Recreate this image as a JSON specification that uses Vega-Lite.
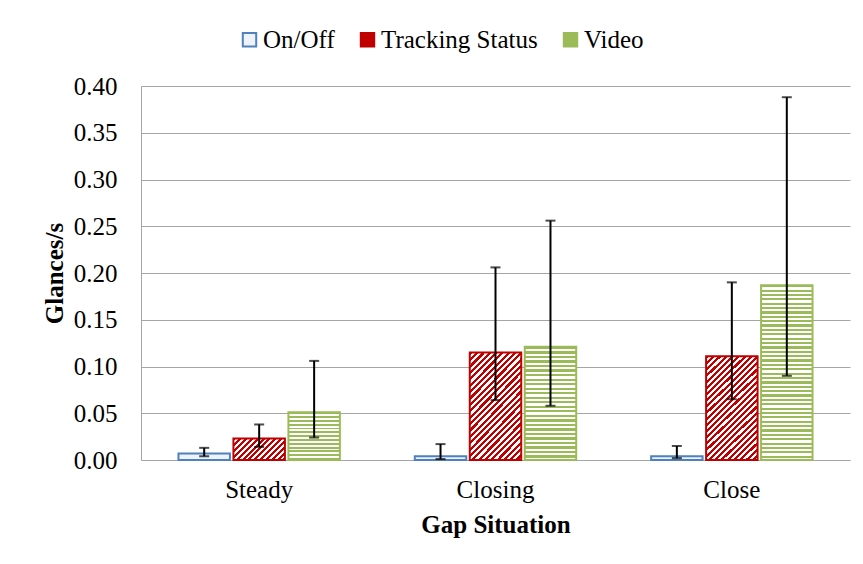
{
"$schema":"https://vega.github.io/schema/vega-lite/v6.json",
"width":709,"height":374,
"autosize":{"type":"none"},
"padding":{"left":141,"top":86,"right":13,"bottom":104},
"background":"#ffffff",
"data":{"values":[
{"situation":"Steady","series":"On/Off","value":0.007,"lo":0.004,"hi":0.013},
{"situation":"Steady","series":"Tracking Status","value":0.023,"lo":0.014,"hi":0.038},
{"situation":"Steady","series":"Video","value":0.051,"lo":0.024,"hi":0.106},
{"situation":"Closing","series":"On/Off","value":0.004,"lo":0.001,"hi":0.017},
{"situation":"Closing","series":"Tracking Status","value":0.115,"lo":0.064,"hi":0.206},
{"situation":"Closing","series":"Video","value":0.121,"lo":0.058,"hi":0.256},
{"situation":"Close","series":"On/Off","value":0.004,"lo":0.002,"hi":0.015},
{"situation":"Close","series":"Tracking Status","value":0.111,"lo":0.065,"hi":0.19},
{"situation":"Close","series":"Video","value":0.187,"lo":0.09,"hi":0.388}
]},
"encoding":{
"x":{"field":"situation","type":"nominal","sort":["Steady","Closing","Close"],"scale":{"paddingInner":0.317,"paddingOuter":0.1585},"axis":{"title":"Gap Situation","labelAngle":0,"labelPadding":17,"titlePadding":10,"grid":false}},
"xOffset":{"field":"series","type":"nominal","sort":["On/Off","Tracking Status","Video"],"scale":{"paddingInner":0.064,"paddingOuter":0}}
},
"layer":[
{"transform":[{"filter":"false"}],
"mark":{"type":"bar","strokeWidth":2},
"encoding":{
"y":{"field":"value","type":"quantitative","title":"Glances/s","scale":{"domain":[0,0.4],"nice":false},"axis":{"values":[0,0.05,0.1,0.15,0.2,0.25,0.3,0.35,0.4],"format":".2f","labelPadding":24,"titlePadding":6,"grid":true}},
"stroke":{"field":"series","type":"nominal","scale":{"domain":["On/Off","Tracking Status","Video"],"range":["#4F81BD","#C00000","#9BBB59"]},
"legend":{"orient":"none","legendX":96,"legendY":-59,"direction":"horizontal","title":null,"symbolType":"square","symbolSize":180,"symbolStrokeWidth":2,"labelFont":"Liberation Serif","labelFontSize":25,"labelColor":"#000000","labelOffset":1,"columnPadding":20}},
"fill":{"field":"series","type":"nominal","scale":{"domain":["On/Off","Tracking Status","Video"],"range":["#eef3f9","#C00000","#9BBB59"]},
"legend":{"orient":"none","legendX":96,"legendY":-59,"direction":"horizontal","title":null,"symbolType":"square","symbolSize":180,"symbolStrokeWidth":2,"labelFont":"Liberation Serif","labelFontSize":25,"labelColor":"#000000","labelOffset":1,"columnPadding":20}}
}},
{"mark":{"type":"bar","strokeWidth":2},
"encoding":{
"y":{"field":"value","type":"quantitative","title":"Glances/s"},
"stroke":{"field":"series","type":"nominal","legend":null},
"fill":{"condition":[
{"test":"datum.series === 'Video' && datum.situation === 'Steady'","value":{"gradient":"linear","x1":0,"y1":0,"x2":0,"y2":1,"stops":[{"offset":0,"color":"#9BBB59"},{"offset":0.04,"color":"#9BBB59"},{"offset":0.04,"color":"#ffffff"},{"offset":0.08,"color":"#ffffff"},{"offset":0.08,"color":"#9BBB59"},{"offset":0.12,"color":"#9BBB59"},{"offset":0.12,"color":"#ffffff"},{"offset":0.16,"color":"#ffffff"},{"offset":0.16,"color":"#9BBB59"},{"offset":0.2,"color":"#9BBB59"},{"offset":0.2,"color":"#ffffff"},{"offset":0.24,"color":"#ffffff"},{"offset":0.24,"color":"#9BBB59"},{"offset":0.28,"color":"#9BBB59"},{"offset":0.28,"color":"#ffffff"},{"offset":0.32,"color":"#ffffff"},{"offset":0.32,"color":"#9BBB59"},{"offset":0.36,"color":"#9BBB59"},{"offset":0.36,"color":"#ffffff"},{"offset":0.4,"color":"#ffffff"},{"offset":0.4,"color":"#9BBB59"},{"offset":0.44,"color":"#9BBB59"},{"offset":0.44,"color":"#ffffff"},{"offset":0.48,"color":"#ffffff"},{"offset":0.48,"color":"#9BBB59"},{"offset":0.52,"color":"#9BBB59"},{"offset":0.52,"color":"#ffffff"},{"offset":0.56,"color":"#ffffff"},{"offset":0.56,"color":"#9BBB59"},{"offset":0.6,"color":"#9BBB59"},{"offset":0.6,"color":"#ffffff"},{"offset":0.64,"color":"#ffffff"},{"offset":0.64,"color":"#9BBB59"},{"offset":0.68,"color":"#9BBB59"},{"offset":0.68,"color":"#ffffff"},{"offset":0.72,"color":"#ffffff"},{"offset":0.72,"color":"#9BBB59"},{"offset":0.76,"color":"#9BBB59"},{"offset":0.76,"color":"#ffffff"},{"offset":0.8,"color":"#ffffff"},{"offset":0.8,"color":"#9BBB59"},{"offset":0.84,"color":"#9BBB59"},{"offset":0.84,"color":"#ffffff"},{"offset":0.88,"color":"#ffffff"},{"offset":0.88,"color":"#9BBB59"},{"offset":0.92,"color":"#9BBB59"},{"offset":0.92,"color":"#ffffff"},{"offset":0.96,"color":"#ffffff"},{"offset":0.96,"color":"#9BBB59"},{"offset":1,"color":"#9BBB59"}]}},
{"test":"datum.series === 'Video' && datum.situation === 'Closing'","value":{"gradient":"linear","x1":0,"y1":0,"x2":0,"y2":1,"stops":[{"offset":0,"color":"#9BBB59"},{"offset":0.02,"color":"#9BBB59"},{"offset":0.02,"color":"#ffffff"},{"offset":0.04,"color":"#ffffff"},{"offset":0.04,"color":"#9BBB59"},{"offset":0.06,"color":"#9BBB59"},{"offset":0.06,"color":"#ffffff"},{"offset":0.08,"color":"#ffffff"},{"offset":0.08,"color":"#9BBB59"},{"offset":0.1,"color":"#9BBB59"},{"offset":0.1,"color":"#ffffff"},{"offset":0.12,"color":"#ffffff"},{"offset":0.12,"color":"#9BBB59"},{"offset":0.14,"color":"#9BBB59"},{"offset":0.14,"color":"#ffffff"},{"offset":0.16,"color":"#ffffff"},{"offset":0.16,"color":"#9BBB59"},{"offset":0.18,"color":"#9BBB59"},{"offset":0.18,"color":"#ffffff"},{"offset":0.2,"color":"#ffffff"},{"offset":0.2,"color":"#9BBB59"},{"offset":0.22,"color":"#9BBB59"},{"offset":0.22,"color":"#ffffff"},{"offset":0.24,"color":"#ffffff"},{"offset":0.24,"color":"#9BBB59"},{"offset":0.26,"color":"#9BBB59"},{"offset":0.26,"color":"#ffffff"},{"offset":0.28,"color":"#ffffff"},{"offset":0.28,"color":"#9BBB59"},{"offset":0.3,"color":"#9BBB59"},{"offset":0.3,"color":"#ffffff"},{"offset":0.32,"color":"#ffffff"},{"offset":0.32,"color":"#9BBB59"},{"offset":0.34,"color":"#9BBB59"},{"offset":0.34,"color":"#ffffff"},{"offset":0.36,"color":"#ffffff"},{"offset":0.36,"color":"#9BBB59"},{"offset":0.38,"color":"#9BBB59"},{"offset":0.38,"color":"#ffffff"},{"offset":0.4,"color":"#ffffff"},{"offset":0.4,"color":"#9BBB59"},{"offset":0.42,"color":"#9BBB59"},{"offset":0.42,"color":"#ffffff"},{"offset":0.44,"color":"#ffffff"},{"offset":0.44,"color":"#9BBB59"},{"offset":0.46,"color":"#9BBB59"},{"offset":0.46,"color":"#ffffff"},{"offset":0.48,"color":"#ffffff"},{"offset":0.48,"color":"#9BBB59"},{"offset":0.5,"color":"#9BBB59"},{"offset":0.5,"color":"#ffffff"},{"offset":0.52,"color":"#ffffff"},{"offset":0.52,"color":"#9BBB59"},{"offset":0.54,"color":"#9BBB59"},{"offset":0.54,"color":"#ffffff"},{"offset":0.56,"color":"#ffffff"},{"offset":0.56,"color":"#9BBB59"},{"offset":0.58,"color":"#9BBB59"},{"offset":0.58,"color":"#ffffff"},{"offset":0.6,"color":"#ffffff"},{"offset":0.6,"color":"#9BBB59"},{"offset":0.62,"color":"#9BBB59"},{"offset":0.62,"color":"#ffffff"},{"offset":0.64,"color":"#ffffff"},{"offset":0.64,"color":"#9BBB59"},{"offset":0.66,"color":"#9BBB59"},{"offset":0.66,"color":"#ffffff"},{"offset":0.68,"color":"#ffffff"},{"offset":0.68,"color":"#9BBB59"},{"offset":0.7,"color":"#9BBB59"},{"offset":0.7,"color":"#ffffff"},{"offset":0.72,"color":"#ffffff"},{"offset":0.72,"color":"#9BBB59"},{"offset":0.74,"color":"#9BBB59"},{"offset":0.74,"color":"#ffffff"},{"offset":0.76,"color":"#ffffff"},{"offset":0.76,"color":"#9BBB59"},{"offset":0.78,"color":"#9BBB59"},{"offset":0.78,"color":"#ffffff"},{"offset":0.8,"color":"#ffffff"},{"offset":0.8,"color":"#9BBB59"},{"offset":0.82,"color":"#9BBB59"},{"offset":0.82,"color":"#ffffff"},{"offset":0.84,"color":"#ffffff"},{"offset":0.84,"color":"#9BBB59"},{"offset":0.86,"color":"#9BBB59"},{"offset":0.86,"color":"#ffffff"},{"offset":0.88,"color":"#ffffff"},{"offset":0.88,"color":"#9BBB59"},{"offset":0.9,"color":"#9BBB59"},{"offset":0.9,"color":"#ffffff"},{"offset":0.92,"color":"#ffffff"},{"offset":0.92,"color":"#9BBB59"},{"offset":0.94,"color":"#9BBB59"},{"offset":0.94,"color":"#ffffff"},{"offset":0.96,"color":"#ffffff"},{"offset":0.96,"color":"#9BBB59"},{"offset":0.98,"color":"#9BBB59"},{"offset":0.98,"color":"#ffffff"},{"offset":1,"color":"#ffffff"}]}},
{"test":"datum.series === 'Video' && datum.situation === 'Close'","value":{"gradient":"linear","x1":0,"y1":0,"x2":0,"y2":1,"stops":[{"offset":0,"color":"#9BBB59"},{"offset":0.0125,"color":"#9BBB59"},{"offset":0.0125,"color":"#ffffff"},{"offset":0.025,"color":"#ffffff"},{"offset":0.025,"color":"#9BBB59"},{"offset":0.0375,"color":"#9BBB59"},{"offset":0.0375,"color":"#ffffff"},{"offset":0.05,"color":"#ffffff"},{"offset":0.05,"color":"#9BBB59"},{"offset":0.0625,"color":"#9BBB59"},{"offset":0.0625,"color":"#ffffff"},{"offset":0.075,"color":"#ffffff"},{"offset":0.075,"color":"#9BBB59"},{"offset":0.0875,"color":"#9BBB59"},{"offset":0.0875,"color":"#ffffff"},{"offset":0.1,"color":"#ffffff"},{"offset":0.1,"color":"#9BBB59"},{"offset":0.1125,"color":"#9BBB59"},{"offset":0.1125,"color":"#ffffff"},{"offset":0.125,"color":"#ffffff"},{"offset":0.125,"color":"#9BBB59"},{"offset":0.1375,"color":"#9BBB59"},{"offset":0.1375,"color":"#ffffff"},{"offset":0.15,"color":"#ffffff"},{"offset":0.15,"color":"#9BBB59"},{"offset":0.1625,"color":"#9BBB59"},{"offset":0.1625,"color":"#ffffff"},{"offset":0.175,"color":"#ffffff"},{"offset":0.175,"color":"#9BBB59"},{"offset":0.1875,"color":"#9BBB59"},{"offset":0.1875,"color":"#ffffff"},{"offset":0.2,"color":"#ffffff"},{"offset":0.2,"color":"#9BBB59"},{"offset":0.2125,"color":"#9BBB59"},{"offset":0.2125,"color":"#ffffff"},{"offset":0.225,"color":"#ffffff"},{"offset":0.225,"color":"#9BBB59"},{"offset":0.2375,"color":"#9BBB59"},{"offset":0.2375,"color":"#ffffff"},{"offset":0.25,"color":"#ffffff"},{"offset":0.25,"color":"#9BBB59"},{"offset":0.2625,"color":"#9BBB59"},{"offset":0.2625,"color":"#ffffff"},{"offset":0.275,"color":"#ffffff"},{"offset":0.275,"color":"#9BBB59"},{"offset":0.2875,"color":"#9BBB59"},{"offset":0.2875,"color":"#ffffff"},{"offset":0.3,"color":"#ffffff"},{"offset":0.3,"color":"#9BBB59"},{"offset":0.3125,"color":"#9BBB59"},{"offset":0.3125,"color":"#ffffff"},{"offset":0.325,"color":"#ffffff"},{"offset":0.325,"color":"#9BBB59"},{"offset":0.3375,"color":"#9BBB59"},{"offset":0.3375,"color":"#ffffff"},{"offset":0.35,"color":"#ffffff"},{"offset":0.35,"color":"#9BBB59"},{"offset":0.3625,"color":"#9BBB59"},{"offset":0.3625,"color":"#ffffff"},{"offset":0.375,"color":"#ffffff"},{"offset":0.375,"color":"#9BBB59"},{"offset":0.3875,"color":"#9BBB59"},{"offset":0.3875,"color":"#ffffff"},{"offset":0.4,"color":"#ffffff"},{"offset":0.4,"color":"#9BBB59"},{"offset":0.4125,"color":"#9BBB59"},{"offset":0.4125,"color":"#ffffff"},{"offset":0.425,"color":"#ffffff"},{"offset":0.425,"color":"#9BBB59"},{"offset":0.4375,"color":"#9BBB59"},{"offset":0.4375,"color":"#ffffff"},{"offset":0.45,"color":"#ffffff"},{"offset":0.45,"color":"#9BBB59"},{"offset":0.4625,"color":"#9BBB59"},{"offset":0.4625,"color":"#ffffff"},{"offset":0.475,"color":"#ffffff"},{"offset":0.475,"color":"#9BBB59"},{"offset":0.4875,"color":"#9BBB59"},{"offset":0.4875,"color":"#ffffff"},{"offset":0.5,"color":"#ffffff"},{"offset":0.5,"color":"#9BBB59"},{"offset":0.5125,"color":"#9BBB59"},{"offset":0.5125,"color":"#ffffff"},{"offset":0.525,"color":"#ffffff"},{"offset":0.525,"color":"#9BBB59"},{"offset":0.5375,"color":"#9BBB59"},{"offset":0.5375,"color":"#ffffff"},{"offset":0.55,"color":"#ffffff"},{"offset":0.55,"color":"#9BBB59"},{"offset":0.5625,"color":"#9BBB59"},{"offset":0.5625,"color":"#ffffff"},{"offset":0.575,"color":"#ffffff"},{"offset":0.575,"color":"#9BBB59"},{"offset":0.5875,"color":"#9BBB59"},{"offset":0.5875,"color":"#ffffff"},{"offset":0.6,"color":"#ffffff"},{"offset":0.6,"color":"#9BBB59"},{"offset":0.6125,"color":"#9BBB59"},{"offset":0.6125,"color":"#ffffff"},{"offset":0.625,"color":"#ffffff"},{"offset":0.625,"color":"#9BBB59"},{"offset":0.6375,"color":"#9BBB59"},{"offset":0.6375,"color":"#ffffff"},{"offset":0.65,"color":"#ffffff"},{"offset":0.65,"color":"#9BBB59"},{"offset":0.6625,"color":"#9BBB59"},{"offset":0.6625,"color":"#ffffff"},{"offset":0.675,"color":"#ffffff"},{"offset":0.675,"color":"#9BBB59"},{"offset":0.6875,"color":"#9BBB59"},{"offset":0.6875,"color":"#ffffff"},{"offset":0.7,"color":"#ffffff"},{"offset":0.7,"color":"#9BBB59"},{"offset":0.7125,"color":"#9BBB59"},{"offset":0.7125,"color":"#ffffff"},{"offset":0.725,"color":"#ffffff"},{"offset":0.725,"color":"#9BBB59"},{"offset":0.7375,"color":"#9BBB59"},{"offset":0.7375,"color":"#ffffff"},{"offset":0.75,"color":"#ffffff"},{"offset":0.75,"color":"#9BBB59"},{"offset":0.7625,"color":"#9BBB59"},{"offset":0.7625,"color":"#ffffff"},{"offset":0.775,"color":"#ffffff"},{"offset":0.775,"color":"#9BBB59"},{"offset":0.7875,"color":"#9BBB59"},{"offset":0.7875,"color":"#ffffff"},{"offset":0.8,"color":"#ffffff"},{"offset":0.8,"color":"#9BBB59"},{"offset":0.8125,"color":"#9BBB59"},{"offset":0.8125,"color":"#ffffff"},{"offset":0.825,"color":"#ffffff"},{"offset":0.825,"color":"#9BBB59"},{"offset":0.8375,"color":"#9BBB59"},{"offset":0.8375,"color":"#ffffff"},{"offset":0.85,"color":"#ffffff"},{"offset":0.85,"color":"#9BBB59"},{"offset":0.8625,"color":"#9BBB59"},{"offset":0.8625,"color":"#ffffff"},{"offset":0.875,"color":"#ffffff"},{"offset":0.875,"color":"#9BBB59"},{"offset":0.8875,"color":"#9BBB59"},{"offset":0.8875,"color":"#ffffff"},{"offset":0.9,"color":"#ffffff"},{"offset":0.9,"color":"#9BBB59"},{"offset":0.9125,"color":"#9BBB59"},{"offset":0.9125,"color":"#ffffff"},{"offset":0.925,"color":"#ffffff"},{"offset":0.925,"color":"#9BBB59"},{"offset":0.9375,"color":"#9BBB59"},{"offset":0.9375,"color":"#ffffff"},{"offset":0.95,"color":"#ffffff"},{"offset":0.95,"color":"#9BBB59"},{"offset":0.9625,"color":"#9BBB59"},{"offset":0.9625,"color":"#ffffff"},{"offset":0.975,"color":"#ffffff"},{"offset":0.975,"color":"#9BBB59"},{"offset":0.9875,"color":"#9BBB59"},{"offset":0.9875,"color":"#ffffff"},{"offset":1,"color":"#ffffff"}]}},
{"test":"datum.series === 'Tracking Status' && datum.situation === 'Steady'","value":{"gradient":"linear","x1":0,"y1":0,"x2":1.207,"y2":0.504,"stops":[{"offset":0,"color":"#C00000"},{"offset":0.04,"color":"#C00000"},{"offset":0.04,"color":"#ffffff"},{"offset":0.08,"color":"#ffffff"},{"offset":0.08,"color":"#C00000"},{"offset":0.12,"color":"#C00000"},{"offset":0.12,"color":"#ffffff"},{"offset":0.16,"color":"#ffffff"},{"offset":0.16,"color":"#C00000"},{"offset":0.2,"color":"#C00000"},{"offset":0.2,"color":"#ffffff"},{"offset":0.24,"color":"#ffffff"},{"offset":0.24,"color":"#C00000"},{"offset":0.28,"color":"#C00000"},{"offset":0.28,"color":"#ffffff"},{"offset":0.32,"color":"#ffffff"},{"offset":0.32,"color":"#C00000"},{"offset":0.36,"color":"#C00000"},{"offset":0.36,"color":"#ffffff"},{"offset":0.4,"color":"#ffffff"},{"offset":0.4,"color":"#C00000"},{"offset":0.44,"color":"#C00000"},{"offset":0.44,"color":"#ffffff"},{"offset":0.48,"color":"#ffffff"},{"offset":0.48,"color":"#C00000"},{"offset":0.52,"color":"#C00000"},{"offset":0.52,"color":"#ffffff"},{"offset":0.56,"color":"#ffffff"},{"offset":0.56,"color":"#C00000"},{"offset":0.6,"color":"#C00000"},{"offset":0.6,"color":"#ffffff"},{"offset":0.64,"color":"#ffffff"},{"offset":0.64,"color":"#C00000"},{"offset":0.68,"color":"#C00000"},{"offset":0.68,"color":"#ffffff"},{"offset":0.72,"color":"#ffffff"},{"offset":0.72,"color":"#C00000"},{"offset":0.76,"color":"#C00000"},{"offset":0.76,"color":"#ffffff"},{"offset":0.8,"color":"#ffffff"},{"offset":0.8,"color":"#C00000"},{"offset":0.84,"color":"#C00000"},{"offset":0.84,"color":"#ffffff"},{"offset":0.88,"color":"#ffffff"},{"offset":0.88,"color":"#C00000"},{"offset":0.92,"color":"#C00000"},{"offset":0.92,"color":"#ffffff"},{"offset":0.96,"color":"#ffffff"},{"offset":0.96,"color":"#C00000"},{"offset":1,"color":"#C00000"}]}},
{"test":"datum.series === 'Tracking Status'","value":{"gradient":"linear","x1":0,"y1":0,"x2":0.584,"y2":1.202,"stops":[{"offset":0,"color":"#C00000"},{"offset":0.02,"color":"#C00000"},{"offset":0.02,"color":"#ffffff"},{"offset":0.04,"color":"#ffffff"},{"offset":0.04,"color":"#C00000"},{"offset":0.06,"color":"#C00000"},{"offset":0.06,"color":"#ffffff"},{"offset":0.08,"color":"#ffffff"},{"offset":0.08,"color":"#C00000"},{"offset":0.1,"color":"#C00000"},{"offset":0.1,"color":"#ffffff"},{"offset":0.12,"color":"#ffffff"},{"offset":0.12,"color":"#C00000"},{"offset":0.14,"color":"#C00000"},{"offset":0.14,"color":"#ffffff"},{"offset":0.16,"color":"#ffffff"},{"offset":0.16,"color":"#C00000"},{"offset":0.18,"color":"#C00000"},{"offset":0.18,"color":"#ffffff"},{"offset":0.2,"color":"#ffffff"},{"offset":0.2,"color":"#C00000"},{"offset":0.22,"color":"#C00000"},{"offset":0.22,"color":"#ffffff"},{"offset":0.24,"color":"#ffffff"},{"offset":0.24,"color":"#C00000"},{"offset":0.26,"color":"#C00000"},{"offset":0.26,"color":"#ffffff"},{"offset":0.28,"color":"#ffffff"},{"offset":0.28,"color":"#C00000"},{"offset":0.3,"color":"#C00000"},{"offset":0.3,"color":"#ffffff"},{"offset":0.32,"color":"#ffffff"},{"offset":0.32,"color":"#C00000"},{"offset":0.34,"color":"#C00000"},{"offset":0.34,"color":"#ffffff"},{"offset":0.36,"color":"#ffffff"},{"offset":0.36,"color":"#C00000"},{"offset":0.38,"color":"#C00000"},{"offset":0.38,"color":"#ffffff"},{"offset":0.4,"color":"#ffffff"},{"offset":0.4,"color":"#C00000"},{"offset":0.42,"color":"#C00000"},{"offset":0.42,"color":"#ffffff"},{"offset":0.44,"color":"#ffffff"},{"offset":0.44,"color":"#C00000"},{"offset":0.46,"color":"#C00000"},{"offset":0.46,"color":"#ffffff"},{"offset":0.48,"color":"#ffffff"},{"offset":0.48,"color":"#C00000"},{"offset":0.5,"color":"#C00000"},{"offset":0.5,"color":"#ffffff"},{"offset":0.52,"color":"#ffffff"},{"offset":0.52,"color":"#C00000"},{"offset":0.54,"color":"#C00000"},{"offset":0.54,"color":"#ffffff"},{"offset":0.56,"color":"#ffffff"},{"offset":0.56,"color":"#C00000"},{"offset":0.58,"color":"#C00000"},{"offset":0.58,"color":"#ffffff"},{"offset":0.6,"color":"#ffffff"},{"offset":0.6,"color":"#C00000"},{"offset":0.62,"color":"#C00000"},{"offset":0.62,"color":"#ffffff"},{"offset":0.64,"color":"#ffffff"},{"offset":0.64,"color":"#C00000"},{"offset":0.66,"color":"#C00000"},{"offset":0.66,"color":"#ffffff"},{"offset":0.68,"color":"#ffffff"},{"offset":0.68,"color":"#C00000"},{"offset":0.7,"color":"#C00000"},{"offset":0.7,"color":"#ffffff"},{"offset":0.72,"color":"#ffffff"},{"offset":0.72,"color":"#C00000"},{"offset":0.74,"color":"#C00000"},{"offset":0.74,"color":"#ffffff"},{"offset":0.76,"color":"#ffffff"},{"offset":0.76,"color":"#C00000"},{"offset":0.78,"color":"#C00000"},{"offset":0.78,"color":"#ffffff"},{"offset":0.8,"color":"#ffffff"},{"offset":0.8,"color":"#C00000"},{"offset":0.82,"color":"#C00000"},{"offset":0.82,"color":"#ffffff"},{"offset":0.84,"color":"#ffffff"},{"offset":0.84,"color":"#C00000"},{"offset":0.86,"color":"#C00000"},{"offset":0.86,"color":"#ffffff"},{"offset":0.88,"color":"#ffffff"},{"offset":0.88,"color":"#C00000"},{"offset":0.9,"color":"#C00000"},{"offset":0.9,"color":"#ffffff"},{"offset":0.92,"color":"#ffffff"},{"offset":0.92,"color":"#C00000"},{"offset":0.94,"color":"#C00000"},{"offset":0.94,"color":"#ffffff"},{"offset":0.96,"color":"#ffffff"},{"offset":0.96,"color":"#C00000"},{"offset":0.98,"color":"#C00000"},{"offset":0.98,"color":"#ffffff"},{"offset":1,"color":"#ffffff"}]}}
],"value":"#eef3f9"}
}},
{"mark":{"type":"rule","strokeWidth":2,"color":"#000000"},
"encoding":{"y":{"field":"lo","type":"quantitative","title":"Glances/s"},"y2":{"field":"hi"}}},
{"mark":{"type":"tick","size":10,"thickness":2,"color":"#000000"},
"encoding":{"y":{"field":"lo","type":"quantitative","title":"Glances/s"}}},
{"mark":{"type":"tick","size":10,"thickness":2,"color":"#000000"},
"encoding":{"y":{"field":"hi","type":"quantitative","title":"Glances/s"}}}
],
"config":{
"font":"Liberation Serif",
"view":{"stroke":null},
"axis":{"labelFont":"Liberation Serif","titleFont":"Liberation Serif","labelFontSize":25,"titleFontSize":25,"labelColor":"#000000","titleColor":"#000000","titleFontWeight":"bold","domainColor":"#a6a6a6","gridColor":"#a6a6a6","ticks":false,"tickSize":0}
}
}
